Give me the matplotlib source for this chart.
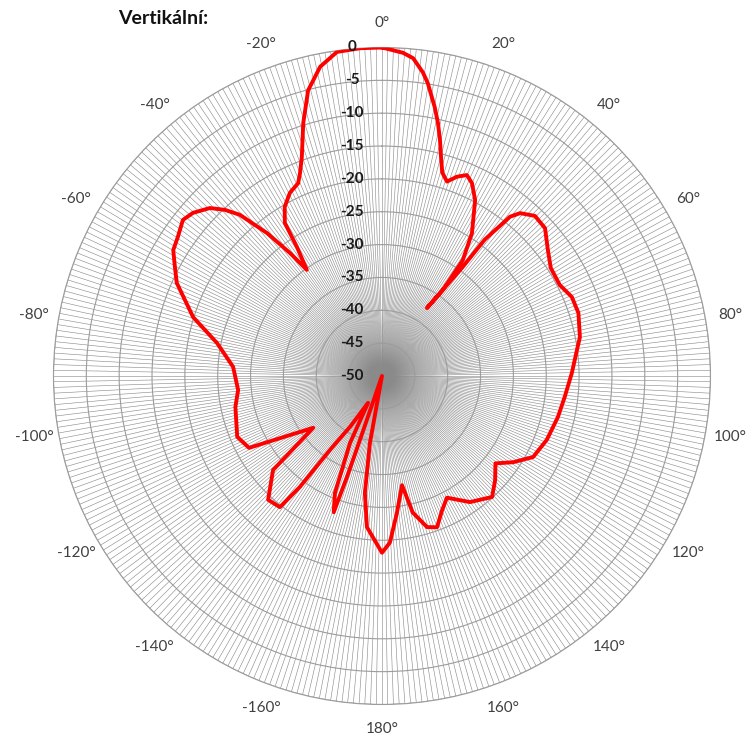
import numpy as np
import matplotlib
matplotlib.use('Agg')
import matplotlib.pyplot as plt
from matplotlib.transforms import ScaledTranslation

plt.rcParams['font.family'] = ['Lato', 'DejaVu Sans']

# vyzařovací diagram - vertikální rovina (úhel ve stupních, zisk v dB)
angles_deg = [
    0, 3.7, 5.6, 7.7, 8.9, 11.1, 12.5, 13.8, 15.1, 16.5, 18.5, 20.6, 22.9, 25.0,
    27.9, 32.2, 34.9, 35.3,
    33.5, 36.5, 37.0, 38.8, 40.3, 43.7, 47.8, 52.8, 57.4, 62.9, 67.4, 72.2, 78.9,
    81.6, 89.1, 96.5, 103.1, 111.2, 118.2, 123.3, 127.6, 132.6, 137.7, 145.1,
    151.9, 155.9, 160.0, 163.4, 167.3, 169.6, 173.8, 177.3, 180.0, 185.7, 188.3,
    190.2, 190.5, 198.5, 199.0, 199.1, 199.5, 201.9, 205.5, 207.4, 212.1, 215.1,
    216.5, 217.9, 222.6, 229.2, 233.0, 241.6, 247.2, 258.1, 264.4, 273.5, 281.3,
    287.3, 294.4, 298.2, 301.1, 304.3, 308.1, 310.8, 314.3, 316.6, 318.6, 321.2,
    323.2, 324.7, 326.6, 327.6, 330.1, 333.3, 336.5, 338.0, 339.9, 342.7,
    345.5, 348.7, 352.1, 356.2, 360.0,
]
gain_db = [
    0.0, -0.7, -1.4, -3.4, -4.9, -8.3, -10.6, -13.0, -15.5, -17.7, -18.8, -17.6, -16.8, -17.6,
    -19.7, -24.3, -28.5, -34.0,
    -37.6, -29.5, -24.0, -18.9, -17.5, -16.3, -16.5, -18.3, -19.5, -19.6, -18.7, -18.6, -19.3,
    -19.9, -21.1, -22.0, -22.5, -23.1, -23.9, -26.1, -28.2, -26.6, -25.1, -26.6,
    -29.0, -27.6, -25.5, -26.0, -28.7, -33.1, -29.0, -24.6, -23.1, -26.9, -32.0,
    -39.6, -50.0, -50.0, -40.3, -33.7, -28.0, -30.8, -38.7, -45.4, -40.9, -36.3,
    -29.0, -24.7, -24.4, -28.1, -36.9, -27.0, -26.1, -27.2, -28.0, -27.3, -24.4,
    -19.9, -15.7, -14.2, -12.9, -12.4, -11.5, -12.0, -13.4, -15.2, -17.3, -22.1,
    -26.6, -30.2, -26.5, -22.4, -20.3, -18.8, -18.0, -16.7, -14.5, -9.7,
    -5.1, -2.0, -0.2, 0.0, 0.0,
]

theta_tick_deg = [0, 20, 40, 60, 80, 100, 120, 140, 160, 180,
                  -160, -140, -120, -100, -80, -60, -40, -20]
theta_tick_labels = ['0°', '20°', '40°', '60°', '80°', '100°', '120°', '140°', '160°', '180°',
                     '-160°', '-140°', '-120°', '-100°', '-80°', '-60°', '-40°', '-20°']
r_ticks = [0, -5, -10, -15, -20, -25, -30, -35, -40, -45, -50]

fig = plt.figure(figsize=(7.54, 7.35), dpi=100)
ax = fig.add_axes([0.0709, 0.0415, 0.8714, 0.8939], projection='polar')
ax.set_theta_zero_location('N')
ax.set_theta_direction(-1)
ax.set_ylim(-50, 0)

# husté paprsky po 1° a kružnice po 5 dB
ax.set_xticks(np.deg2rad(np.arange(0, 360, 1)))
ax.set_xticklabels([])
ax.set_yticks(r_ticks)
ax.set_yticklabels([])
ax.xaxis.grid(True, color='#8a8a8a', linewidth=0.42)
ax.yaxis.grid(True, color='#9c9c9c', linewidth=0.8)
ax.tick_params(length=0)
ax.spines['polar'].set_color('#9c9c9c')
ax.spines['polar'].set_linewidth(0.8)

ax.plot(np.deg2rad(angles_deg), gain_db, color='#ff0000', linewidth=2.8,
        solid_joinstyle='round', zorder=5)

# popisky úhlů
for a, lab in zip(theta_tick_deg, theta_tick_labels):
    ax.text(np.deg2rad(a), 3.8, lab, ha='center', va='center', fontsize=11,
            color='#404040', clip_on=False)

# popisky dB na svislé ose
shift = ScaledTranslation(-30 / 100, 0, fig.dpi_scale_trans)
for r in r_ticks:
    ax.text(0, r, str(r), ha='center', va='center', fontsize=11, fontweight='bold',
            color='#1a1a1a', transform=ax.transData + shift, zorder=6)

fig.text(118 / 754, 1 - 19 / 735, 'Vertikální:', fontsize=14, fontweight='bold',
         ha='left', va='center', color='#111111')

fig.savefig('out.png', dpi=100)
